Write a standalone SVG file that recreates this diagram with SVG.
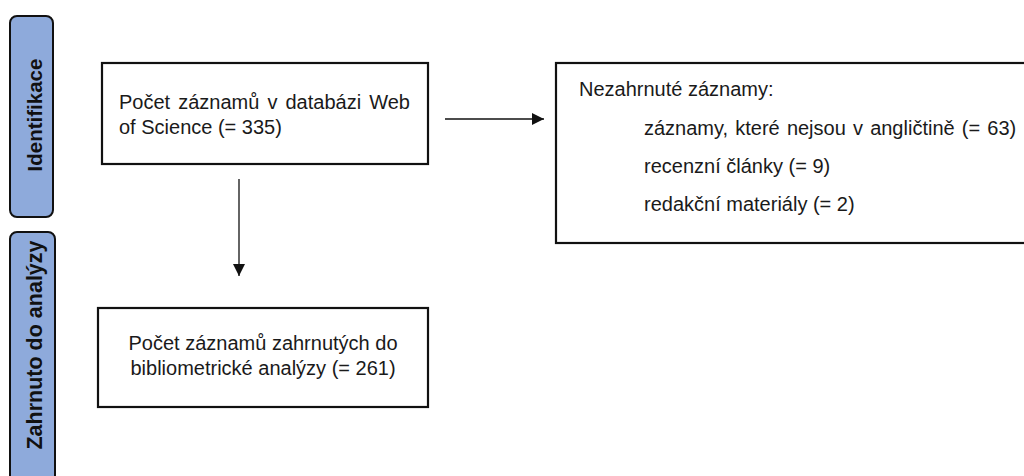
<svg xmlns="http://www.w3.org/2000/svg" width="1024" height="476" viewBox="0 0 1024 476">
<style>
.bar{fill:#8eaadb;stroke:#111;stroke-width:2}
.box{fill:#fff;stroke:#111;stroke-width:2.2}
.lbl{font-family:"Liberation Sans",Arial,sans-serif;font-size:20.5px;font-weight:bold;fill:#111;text-anchor:middle}
.t{font-family:"Liberation Sans",Arial,sans-serif;font-size:20px;fill:#1a1a1a}
.c{text-anchor:middle}
.edge{stroke:#111;stroke-width:1.3;fill:none}
</style>
<defs>
<marker id="ah" markerUnits="userSpaceOnUse" markerWidth="12" markerHeight="12" refX="12" refY="6" orient="auto">
<path d="M0,0 L12,6 L0,12 Z" fill="#111"/>
</marker>
</defs>
<rect width="1024" height="476" fill="#fff"/>
<g id="stage-identifikace">
<rect class="bar" x="10" y="16" width="43" height="201" rx="7"/>
<text class="lbl" transform="translate(42,115) rotate(-90)">Identifikace</text>
</g>
<g id="stage-zahrnuto">
<rect class="bar" x="10" y="232" width="45" height="260" rx="7"/>
<text class="lbl" transform="translate(42,345) rotate(-90)" style="font-size:21.5px">Zahrnuto do analýzy</text>
</g>
<g id="node-wos">
<rect class="box" x="102" y="63" width="326" height="101"/>
<text class="t" x="119" y="109" word-spacing="2.5">Počet záznamů v databázi Web</text>
<text class="t" x="119" y="134">of Science (= 335)</text>
</g>
<g id="node-excluded">
<rect class="box" x="556" y="63" width="480" height="180"/>
<text class="t" x="579" y="96">Nezahrnuté záznamy:</text>
<text class="t" x="644" y="135" word-spacing="1.6">záznamy, které nejsou v angličtině (= 63)</text>
<text class="t" x="644" y="173">recenzní články (= 9)</text>
<text class="t" x="644" y="211">redakční materiály (= 2)</text>
</g>
<g id="node-included">
<rect class="box" x="98" y="308" width="330" height="99"/>
<text class="t c" x="263" y="350">Počet záznamů zahrnutých do</text>
<text class="t c" x="263" y="375">bibliometrické analýzy (= 261)</text>
</g>
<g id="connectors">
<line class="edge" x1="445" y1="119" x2="544" y2="119" marker-end="url(#ah)"/>
<line class="edge" x1="239" y1="179" x2="239" y2="276" marker-end="url(#ah)"/>
</g>
</svg>
